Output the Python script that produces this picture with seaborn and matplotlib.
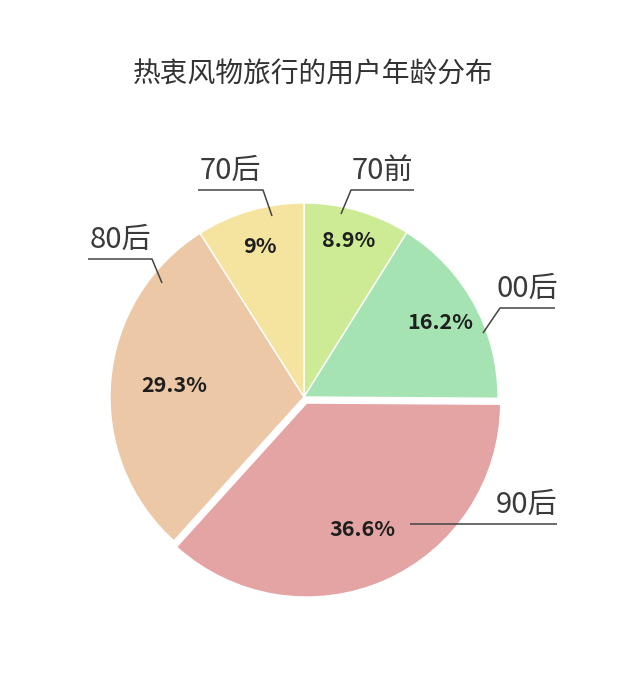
import numpy as np
import matplotlib
matplotlib.use("Agg")
import matplotlib.pyplot as plt
import seaborn as sns

# data
groups = ["70前", "00后", "90后", "80后", "70后"]
shares = [8.9, 16.2, 36.6, 29.3, 9.0]
colors = ["#cdeb95", "#a6e3b2", "#e4a4a3", "#ecc8a7", "#f5e3a0"]
title = "热衷风物旅行的用户年龄分布"

sns.set_theme(style="white")
plt.rcParams["font.family"] = ["Noto Sans CJK SC", "DejaVu Sans"]

R = 194.0  # pie radius in px
fig = plt.figure(figsize=(6.4, 6.84), dpi=100)
ax = fig.add_axes([0, 0, 1, 1])

explode = [0, 0, 0.034, 0, 0]
wedges, _, autotexts = ax.pie(
    shares, colors=colors, startangle=90, counterclock=False,
    explode=explode, autopct=lambda v: f"{v:.1f}%",
    wedgeprops=dict(edgecolor="white", linewidth=1.0),
    textprops=dict(fontsize=15.5, color="#1e1e1e", fontweight="bold"),
)
# pie() resets the limits, so set them afterwards
ax.set_xlim(-304 / R, 336 / R)
ax.set_ylim(-287 / R, 397 / R)
ax.set_aspect("equal")
ax.axis("off")

# percent label placement (radius along each wedge's mid angle)
pct_r = [0.84, 0.80, 0.715, 0.67, 0.81]
for w, t, v, r, e in zip(wedges, autotexts, shares, pct_r, explode):
    mid = np.deg2rad((w.theta1 + w.theta2) / 2)
    t.set_text(f"{v:g}%")
    t.set_position(((r + e) * np.cos(mid), (r + e) * np.sin(mid)))

# leader lines: anchor on wedge, elbow, end of underline (px offsets from centre)
leaders = {
    "70前": [(37, 183), (47, 207), (110, 207)],
    "00后": [(179, 64), (196, 89), (251, 89)],
    "80后": [(-142, 114), (-152, 138), (-216, 138)],
    "70后": [(-32, 181), (-41, 207), (-106, 207)],
    "90后": [(106, -127), (106, -127), (253, -127)],
}
for name in groups:
    a, b, c = leaders[name]
    xs = [a[0] / R, b[0] / R, c[0] / R]
    ys = [a[1] / R, b[1] / R, c[1] / R]
    ax.plot(xs, ys, color="#444444", lw=1.1, solid_capstyle="butt")
    if name == "90后":
        tx = c[0] / R
        ha = "right"
    else:
        tx = (b[0] + c[0]) / 2 / R
        ha = "center"
    ax.text(tx, c[1] / R + 4 / R, name, ha=ha, va="bottom",
            fontsize=21, color="#3a3a3a", fontweight="light")

fig.text(0.49, 1 - 75 / 684, title, ha="center", va="center",
         fontsize=20, color="#333333")

fig.savefig("out.png", dpi=100)
